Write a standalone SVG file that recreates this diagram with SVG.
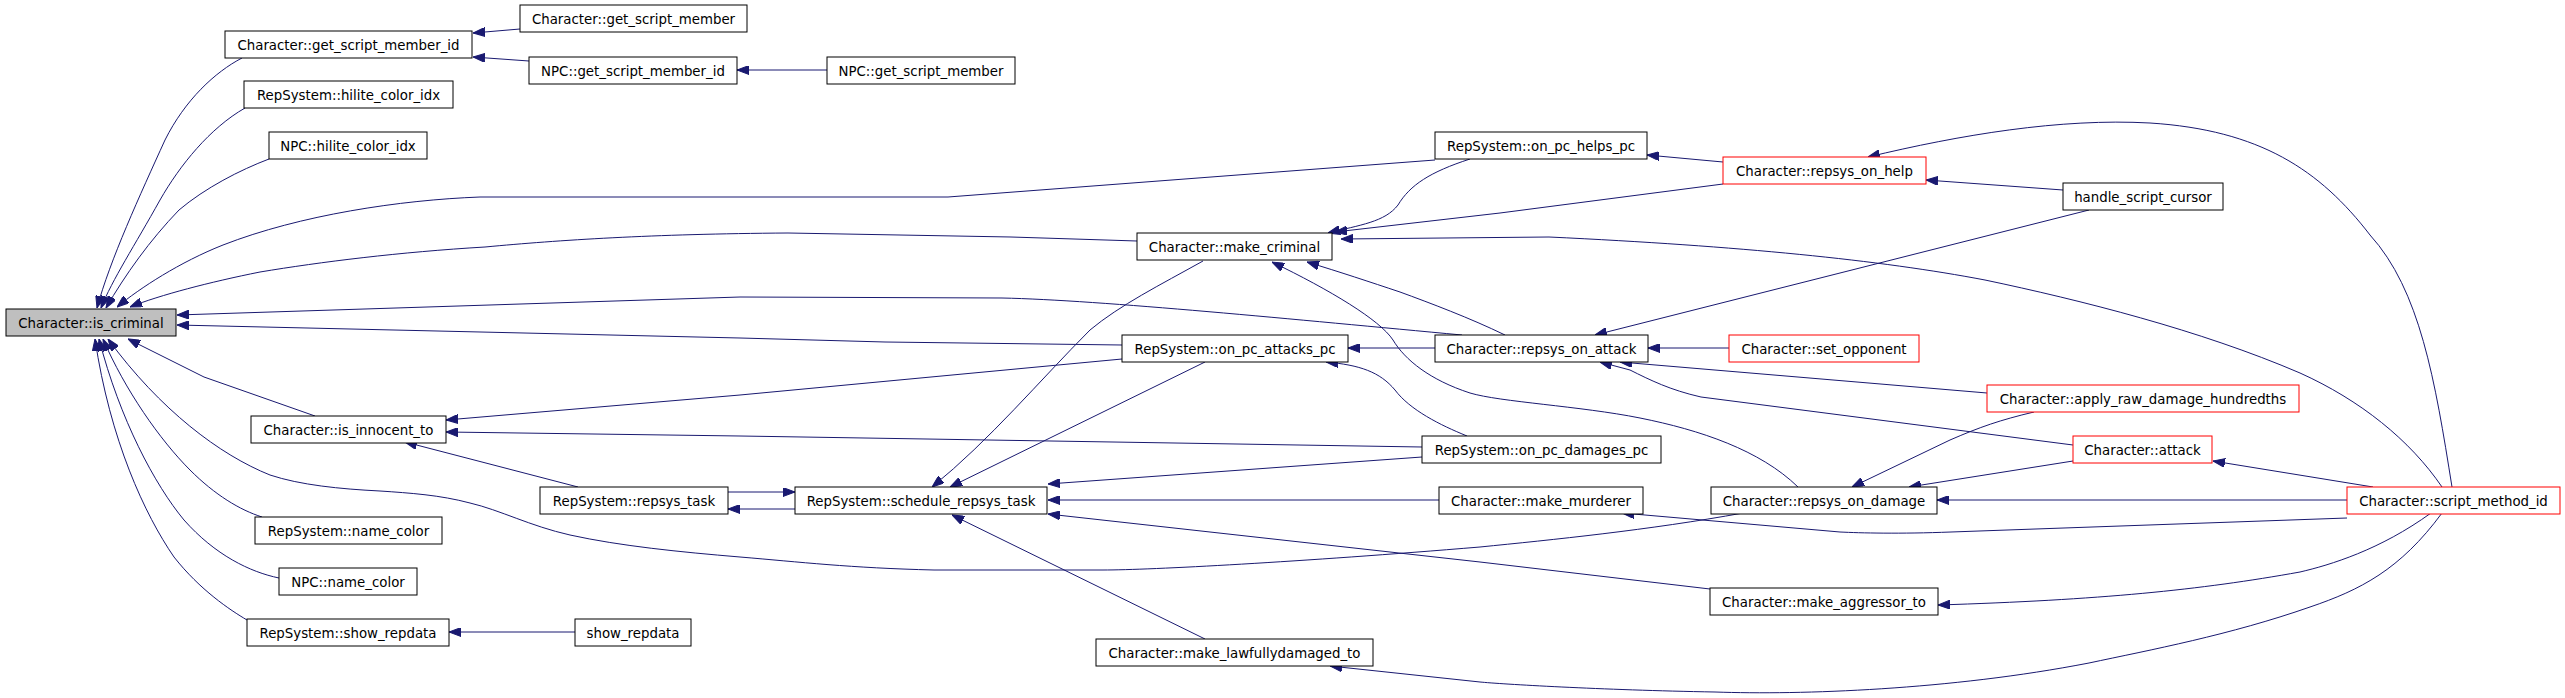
<svg xmlns="http://www.w3.org/2000/svg" width="2565" height="698" viewBox="0 0 2565 698">
<style>
.n rect{fill:#fff;stroke:#000;stroke-width:1}
.n.r rect{stroke:#f00}
.n.g rect{fill:#bfbfbf}
.n text{font-family:"DejaVu Sans","Liberation Sans",sans-serif;font-size:13.33px;text-anchor:middle;fill:#000}
#edges path{fill:none;stroke:#191970;stroke-width:1;marker-end:url(#a)}
</style>
<defs>
<marker id="a" markerUnits="userSpaceOnUse" markerWidth="12" markerHeight="9" refX="12" refY="4.5" orient="auto"><path d="M0,0 L12,4.5 L0,9 z" fill="#191970" stroke="#191970"/></marker>
</defs>
<rect width="2565" height="698" fill="#fff"/>
<g id="edges">
<path d="M520,29 L473,33"/>
<path d="M529,61 L473,57"/>
<path d="M827,70 L737,70"/>
<path d="M242,58 C215,72 185,100 165,140 C140,195 110,260 97,308"/>
<path d="M245,108 C210,128 180,165 160,200 C135,245 112,280 101,308"/>
<path d="M269,159 C240,170 205,188 179,210 C150,240 125,275 106,308"/>
<path d="M1435,160 L948,197 L480,197 C400,200 300,215 223,245 C180,262 140,288 117,307"/>
<path d="M1137,241 L1011,237 L788,233 C650,234 560,240 485,247 C400,252 320,262 260,272 C210,282 160,295 130,307"/>
<path d="M1462,335 C1300,320 1100,300 1002,298 L740,297 L177,315"/>
<path d="M1122,345 L885,342 L740,338 L177,325"/>
<path d="M315,416 L204,377 L128,339"/>
<path d="M1743,513 C1650,530 1550,540 1480,547 C1300,562 1150,570 1103,570 L934,570 C850,568 800,562 740,557 C680,552 620,546 570,535 C530,526 500,510 470,503 C440,495 410,493 380,491 C340,489 300,485 270,475 C220,455 160,410 108,339"/>
<path d="M262,517 C240,510 215,495 190,470 C160,440 125,390 103,339"/>
<path d="M279,578 C250,572 215,555 184,520 C155,485 120,420 99,339"/>
<path d="M247,620 C230,610 200,590 174,557 C145,515 110,440 95,339"/>
<path d="M1122,359 L740,395 L446,420"/>
<path d="M1422,447 L740,436 L446,432"/>
<path d="M578,487 L405,442"/>
<path d="M575,632 L449,632"/>
<path d="M728,492 L795,492"/>
<path d="M795,509 L728,509"/>
<path d="M1203,261 C1160,285 1120,305 1090,330 C1040,380 990,440 932,487"/>
<path d="M1205,362 L950,487"/>
<path d="M1422,457 L1048,484"/>
<path d="M1439,500 L1048,500"/>
<path d="M1710,589 L1480,562 L1048,514"/>
<path d="M1205,639 L952,515"/>
<path d="M1470,159 C1430,172 1410,185 1398,205 C1385,222 1360,225 1328,233"/>
<path d="M1723,184 L1500,213 L1335,232"/>
<path d="M2442,487 C2410,440 2360,400 2300,373 C2200,330 2080,300 1985,280 C1880,260 1740,246 1549,237 L1341,239"/>
<path d="M1505,335 C1470,318 1430,303 1400,292 C1370,282 1340,272 1307,262"/>
<path d="M1798,487 C1760,450 1700,430 1640,418 C1580,406 1500,402 1470,393 C1430,380 1405,360 1393,340 C1380,320 1330,290 1272,262"/>
<path d="M1435,348 L1348,348"/>
<path d="M1467,436 C1440,425 1410,410 1395,390 C1380,372 1360,365 1326,362"/>
<path d="M1723,162 L1647,155"/>
<path d="M2063,190 L1926,180"/>
<path d="M2452,487 C2435,380 2420,290 2370,235 C2320,170 2260,130 2150,123 C2060,118 1960,135 1868,157"/>
<path d="M2089,210 L1595,335"/>
<path d="M1729,348 L1648,348"/>
<path d="M1987,393 L1620,362"/>
<path d="M2073,445 L1701,397 C1670,390 1650,380 1630,370 L1600,362"/>
<path d="M2034,412 C2000,420 1980,427 1950,440 L1852,487"/>
<path d="M2073,461 L1909,487"/>
<path d="M2373,487 L2213,461"/>
<path d="M2347,500 L1937,500"/>
<path d="M2347,518 L1951,532 C1900,534 1860,533 1840,532 L1622,513"/>
<path d="M2431,513 C2380,550 2330,565 2300,572 C2200,590 2100,600 1938,605"/>
<path d="M2442,513 C2400,570 2360,590 2310,607 C2230,635 2150,650 2089,663 C1950,690 1800,695 1715,692 C1600,690 1500,684 1480,682 L1330,666"/>
</g>
<g id="n1" class="n g"><rect x="6" y="309" width="170" height="27"/><text x="91" y="327.5">Character::is_criminal</text></g>
<g id="n2" class="n"><rect x="225" y="31" width="247" height="27"/><text x="348.5" y="49.5">Character::get_script_member_id</text></g>
<g id="n3" class="n"><rect x="520" y="5" width="227" height="27"/><text x="633.5" y="23.5">Character::get_script_member</text></g>
<g id="n4" class="n"><rect x="529" y="57" width="208" height="27"/><text x="633" y="75.5">NPC::get_script_member_id</text></g>
<g id="n5" class="n"><rect x="827" y="57" width="188" height="27"/><text x="921" y="75.5">NPC::get_script_member</text></g>
<g id="n6" class="n"><rect x="244" y="81" width="209" height="27"/><text x="348.5" y="99.5">RepSystem::hilite_color_idx</text></g>
<g id="n7" class="n"><rect x="269" y="132" width="158" height="27"/><text x="348" y="150.5">NPC::hilite_color_idx</text></g>
<g id="n8" class="n"><rect x="251" y="416" width="195" height="27"/><text x="348.5" y="434.5">Character::is_innocent_to</text></g>
<g id="n9" class="n"><rect x="540" y="487" width="188" height="27"/><text x="634" y="505.5">RepSystem::repsys_task</text></g>
<g id="n10" class="n"><rect x="255" y="517" width="187" height="27"/><text x="348.5" y="535.5">RepSystem::name_color</text></g>
<g id="n11" class="n"><rect x="279" y="568" width="138" height="27"/><text x="348" y="586.5">NPC::name_color</text></g>
<g id="n12" class="n"><rect x="247" y="619" width="202" height="27"/><text x="348" y="637.5">RepSystem::show_repdata</text></g>
<g id="n13" class="n"><rect x="575" y="619" width="116" height="27"/><text x="633" y="637.5">show_repdata</text></g>
<g id="n14" class="n"><rect x="1435" y="132" width="212" height="27"/><text x="1541" y="150.5">RepSystem::on_pc_helps_pc</text></g>
<g id="n15" class="n"><rect x="1137" y="233" width="195" height="27"/><text x="1234.5" y="251.5">Character::make_criminal</text></g>
<g id="n16" class="n"><rect x="1122" y="335" width="226" height="27"/><text x="1235" y="353.5">RepSystem::on_pc_attacks_pc</text></g>
<g id="n17" class="n"><rect x="1435" y="335" width="213" height="27"/><text x="1541.5" y="353.5">Character::repsys_on_attack</text></g>
<g id="n18" class="n"><rect x="1422" y="436" width="239" height="27"/><text x="1541.5" y="454.5">RepSystem::on_pc_damages_pc</text></g>
<g id="n19" class="n"><rect x="795" y="487" width="252" height="27"/><text x="921" y="505.5">RepSystem::schedule_repsys_task</text></g>
<g id="n20" class="n"><rect x="1439" y="487" width="204" height="27"/><text x="1541" y="505.5">Character::make_murderer</text></g>
<g id="n21" class="n"><rect x="1096" y="639" width="277" height="27"/><text x="1234.5" y="657.5">Character::make_lawfullydamaged_to</text></g>
<g id="n22" class="n r"><rect x="1723" y="157" width="203" height="27"/><text x="1824.5" y="175.5">Character::repsys_on_help</text></g>
<g id="n23" class="n"><rect x="2063" y="183" width="160" height="27"/><text x="2143" y="201.5">handle_script_cursor</text></g>
<g id="n24" class="n r"><rect x="1729" y="335" width="190" height="27"/><text x="1824" y="353.5">Character::set_opponent</text></g>
<g id="n25" class="n r"><rect x="1987" y="385" width="312" height="27"/><text x="2143" y="403.5">Character::apply_raw_damage_hundredths</text></g>
<g id="n26" class="n r"><rect x="2073" y="436" width="139" height="27"/><text x="2142.5" y="454.5">Character::attack</text></g>
<g id="n27" class="n"><rect x="1711" y="487" width="226" height="27"/><text x="1824" y="505.5">Character::repsys_on_damage</text></g>
<g id="n28" class="n r"><rect x="2347" y="487" width="213" height="27"/><text x="2453.5" y="505.5">Character::script_method_id</text></g>
<g id="n29" class="n"><rect x="1710" y="588" width="228" height="27"/><text x="1824" y="606.5">Character::make_aggressor_to</text></g>
</svg>
